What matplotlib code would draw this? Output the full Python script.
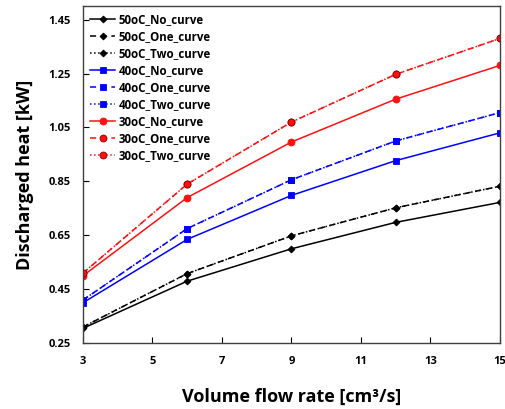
import numpy as np
import matplotlib.pyplot as plt

plt.rcParams['font.family'] = ['Open Sans', 'DejaVu Sans']

# volume flow rate [cm3/s]
flow = [3, 6, 9, 12, 15]

# discharged heat [kW]
t50_no = [0.305, 0.480, 0.600, 0.698, 0.772]
t50_one = [0.310, 0.508, 0.648, 0.752, 0.832]
t50_two = [0.310, 0.508, 0.648, 0.752, 0.832]
t40_no = [0.400, 0.635, 0.798, 0.927, 1.030]
t40_one = [0.410, 0.675, 0.856, 1.000, 1.105]
t40_two = [0.410, 0.675, 0.856, 1.000, 1.105]
t30_no = [0.500, 0.790, 0.996, 1.155, 1.280]
t30_one = [0.510, 0.840, 1.070, 1.247, 1.380]
t30_two = [0.510, 0.840, 1.070, 1.247, 1.380]

fig = plt.figure(figsize=(5.06, 4.09), dpi=100)
ax = fig.add_axes([0.164, 0.161, 0.824, 0.824])

series = [
    (t50_no, '50oC_No_curve', 'black', '-', 'D', 'black', 3.5),
    (t50_one, '50oC_One_curve', 'black', (0, (4, 3)), 'D', 'black', 3.5),
    (t50_two, '50oC_Two_curve', 'black', ':', 'D', 'black', 3.5),
    (t40_no, '40oC_No_curve', '#0000ff', '-', 's', '#0000ff', 5),
    (t40_one, '40oC_One_curve', '#0000ff', (0, (4, 3)), 's', '#0000ff', 5),
    (t40_two, '40oC_Two_curve', '#0000ff', ':', 's', '#0000ff', 5),
    (t30_no, '30oC_No_curve', '#ff1010', '-', 'o', '#ff1010', 5),
    (t30_one, '30oC_One_curve', '#ff1010', (0, (4, 3)), 'o', '#8b0000', 5),
    (t30_two, '30oC_Two_curve', '#ff1010', ':', 'o', '#8b0000', 5),
]
for y, lab, c, ls, m, ec, ms in series:
    ax.plot(flow, y, color=c, ls=ls, lw=1.1, marker=m, ms=ms,
            mfc=c, mec=ec, mew=0.6, label=lab)

ax.set_xlim(3, 15)
ax.set_ylim(0.25, 1.5)
ax.set_xticks(np.arange(3, 16, 2))
ax.set_yticks([0.25, 0.45, 0.65, 0.85, 1.05, 1.25, 1.45])
ax.set_yticklabels(['0.25', '0.45', '0.65', '0.85', '1.05', '1.25', '1.45'])
ax.tick_params(direction='in', length=4, labelsize=8, pad=9, colors='black')
for lbl in ax.get_xticklabels() + ax.get_yticklabels():
    lbl.set_fontweight('bold')
for s in ax.spines.values():
    s.set_color('#404040')
    s.set_linewidth(1.0)

ax.set_xlabel('Volume flow rate [cm³/s]', fontsize=13, fontweight='bold', labelpad=15)
ax.set_ylabel('Discharged heat [kW]', fontsize=13, fontweight='bold', labelpad=10)

ax.legend(loc='upper left', frameon=False, handlelength=2.2,
          handletextpad=0.3, labelspacing=0.35, borderaxespad=0.2,
          prop={'weight': 'bold', 'size': 8.3})

fig.savefig('out.png', dpi=100)
